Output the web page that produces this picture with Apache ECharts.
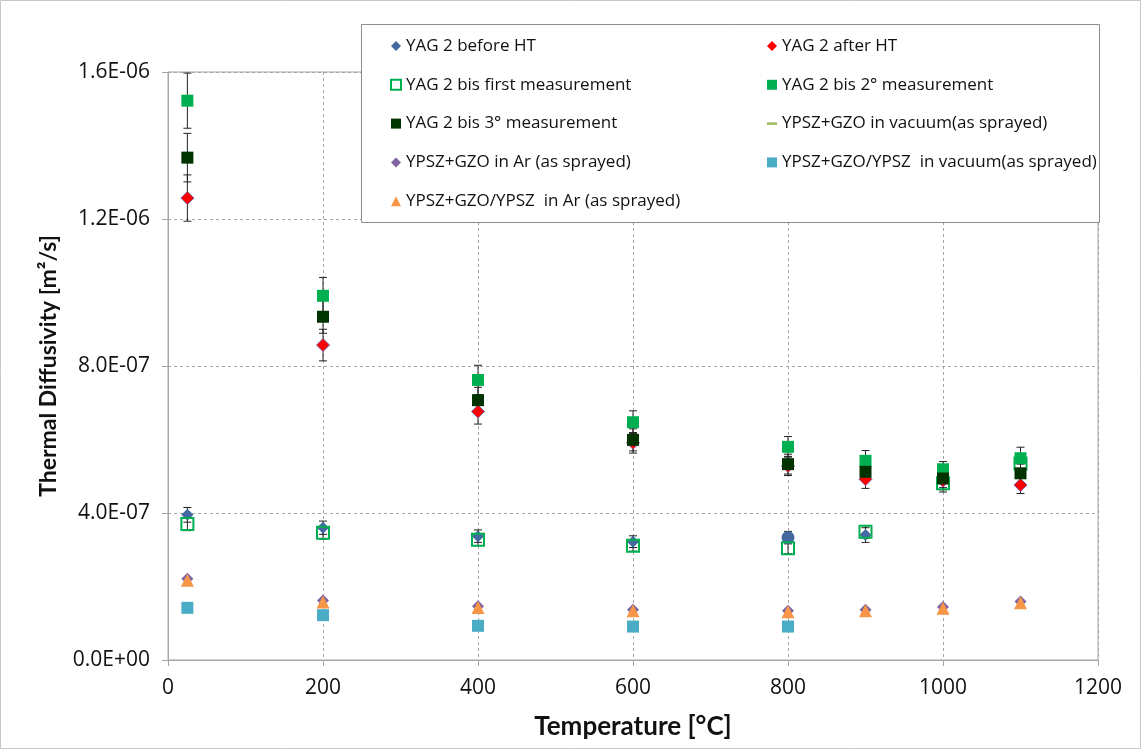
<!DOCTYPE html>
<html><head><meta charset="utf-8">
<script src="https://cdn.jsdelivr.net/npm/echarts@6/dist/echarts.min.js"></script>
<style>html,body{margin:0;padding:0;background:#fff}#c{width:1141px;height:749px}</style>
</head><body><div id="c"></div>
<script>
const temps = [25, 200, 400, 600, 800, 900, 1000, 1100];
const xTicks = [0, 200, 400, 600, 800, 1000, 1200];
const yTicks = [0, 4e-7, 8e-7, 1.2e-6, 1.6e-6];

const beforeHT   = [3.95e-7, 3.60e-7, 3.37e-7, 3.22e-7, 3.33e-7, 3.40e-7, null, null];
const afterHT    = [1.257e-6, 8.57e-7, 6.76e-7, 5.91e-7, 5.28e-7, 4.92e-7, 4.88e-7, 4.76e-7];
const bisFirst   = [3.70e-7, 3.46e-7, 3.27e-7, 3.11e-7, 3.04e-7, 3.49e-7, 4.81e-7, 5.35e-7];
const bis2       = [1.522e-6, 9.91e-7, 7.62e-7, 6.47e-7, 5.80e-7, 5.42e-7, 5.19e-7, 5.49e-7];
const bis3       = [1.367e-6, 9.34e-7, 7.07e-7, 5.99e-7, 5.33e-7, 5.12e-7, 4.94e-7, 5.08e-7];
const gzoVac     = [];
const gzoAr      = [2.21e-7, 1.62e-7, 1.46e-7, 1.37e-7, 1.34e-7, 1.37e-7, 1.44e-7, 1.59e-7];
const gzoYpszVac = [1.42e-7, 1.22e-7, 0.93e-7, 0.91e-7, 0.91e-7, null, null, null];
const gzoYpszAr  = [2.17e-7, 1.58e-7, 1.43e-7, 1.34e-7, 1.31e-7, 1.34e-7, 1.41e-7, 1.56e-7];

const errBefore = [0.20e-7, 0.18e-7, 0.17e-7, 0.16e-7, 0.17e-7, 0.20e-7, null, null];
const errAfter  = [0.63e-7, 0.43e-7, 0.34e-7, 0.28e-7, 0.26e-7, 0.25e-7, 0.25e-7, 0.23e-7];
const errFirst  = [0.18e-7, 0.17e-7, 0.16e-7, 0.15e-7, 0.15e-7, 0.17e-7, 0.24e-7, 0.27e-7];
const errBis2   = [0.75e-7, 0.50e-7, 0.40e-7, 0.31e-7, 0.28e-7, 0.28e-7, 0.21e-7, 0.30e-7];
const errBis3   = [0.66e-7, 0.45e-7, 0.35e-7, 0.30e-7, 0.27e-7, 0.26e-7, 0.25e-7, 0.25e-7];

const names = ['YAG 2 before HT','YAG 2 after HT','YAG 2 bis first measurement','YAG 2 bis 2° measurement',
  'YAG 2 bis 3° measurement','YPSZ+GZO in vacuum(as sprayed)','YPSZ+GZO in Ar (as sprayed)',
  'YPSZ+GZO/YPSZ  in vacuum(as sprayed)','YPSZ+GZO/YPSZ  in Ar (as sprayed)'];

function pts(vals){ const o=[]; vals.forEach((v,i)=>{ if(v!==null && v!==undefined) o.push([temps[i], v]); }); return o; }
function errPts(vals, errs){ const o=[]; vals.forEach((v,i)=>{ if(v!==null && errs[i]!==null) o.push([temps[i], v-errs[i], v+errs[i]]); }); return o; }

function fmt(v){
  if (v === 0) return '0.0E+00';
  let s = v.toExponential(1);
  let [m, e] = s.split('e');
  let sign = e[0] === '-' ? '-' : '+';
  let d = e.replace(/[+-]/,'');
  if (d.length < 2) d = '0' + d;
  return m + 'E' + sign + d;
}

function errSeries(vals, errs){
  return {
    type: 'custom', z: 1, silent: true,
    data: errPts(vals, errs),
    renderItem: function(params, api){
      const x = api.value(0);
      const lo = api.coord([x, api.value(1)]);
      const hi = api.coord([x, api.value(2)]);
      const c = 4;
      const st = {stroke: '#222', lineWidth: 1};
      return {type:'group', children:[
        {type:'line', shape:{x1:lo[0],y1:lo[1],x2:hi[0],y2:hi[1]}, style:st},
        {type:'line', shape:{x1:lo[0]-c,y1:lo[1],x2:lo[0]+c,y2:lo[1]}, style:st},
        {type:'line', shape:{x1:hi[0]-c,y1:hi[1],x2:hi[0]+c,y2:hi[1]}, style:st}
      ]};
    }
  };
}

const TFONT = 'Open Sans';
const BFONT = 'Lato';
const legendText = {fontSize: 17, color: '#111', fontFamily: TFONT, lineHeight: 20};
const chart = echarts.init(document.getElementById('c'));
const option = {
  backgroundColor: '#fff',
  animation: false,
  textStyle: {fontFamily: TFONT},
  grid: {left: 168, right: 43, top: 72, bottom: 89, show: true, borderColor: '#a6a6a6', borderWidth: 1},
  xAxis: {
    type: 'value', min: xTicks[0], max: xTicks[xTicks.length-1], interval: 200,
    name: 'Temperature [°C]', nameLocation: 'middle', nameGap: 54,
    nameTextStyle: {fontSize: 26, fontWeight: 'bold', color: '#111', fontFamily: BFONT},
    axisLine: {lineStyle: {color: '#a6a6a6'}},
    axisTick: {show: true, length: 6, lineStyle: {color: '#a6a6a6'}},
    axisLabel: {fontSize: 21, color: '#111', margin: 18, formatter: (v)=> String(v)},
    splitLine: {lineStyle: {color: '#a6a6a6', type: [3,3]}}
  },
  yAxis: {
    type: 'value', min: yTicks[0], max: yTicks[yTicks.length-1], interval: 4e-7,
    name: 'Thermal Diffusivity [m²/s]', nameLocation: 'middle', nameGap: 108,
    nameTextStyle: {fontSize: 23, fontWeight: 'bold', color: '#111', fontFamily: BFONT},
    axisLine: {show: true, lineStyle: {color: '#a6a6a6'}},
    axisTick: {show: true, length: 6, lineStyle: {color: '#a6a6a6'}},
    axisLabel: {fontSize: 21, color: '#111', margin: 18, formatter: fmt},
    splitLine: {lineStyle: {color: '#a6a6a6', type: [3,3]}}
  },
  graphic: [
    {type:'rect', z: 100, silent:true, shape:{x:0.5,y:0.5,width:1140,height:748}, style:{fill:'none', stroke:'#c8c8c8', lineWidth:1}},
    {type:'rect', z: 3, silent:true, shape:{x:361.5,y:24.5,width:738,height:198}, style:{fill:'#fff', stroke:'#8c8c8c', lineWidth:1}}
  ],
  legend: [
    {left: 385, top: 31, orient: 'vertical', itemGap: 18.8, itemWidth: 10, itemHeight: 10, z: 5,
     textStyle: legendText,
     data: [{name: names[0], icon: 'diamond'}, {name: names[2]}, {name: names[4], icon: 'rect'}, {name: names[6], icon: 'diamond'}, {name: names[8], icon: 'triangle'}]},
    {left: 762, top: 31, orient: 'vertical', itemGap: 18.8, itemWidth: 10, itemHeight: 10, z: 5,
     textStyle: legendText,
     data: [{name: names[1], icon: 'diamond', itemStyle: {borderWidth: 0}}, {name: names[3], icon: 'rect'}, {name: names[5], icon: 'path://M0,4 L10,4 L10,6.5 L0,6.5 Z'}, {name: names[7], icon: 'rect'}]}
  ],
  series: [
    errSeries(beforeHT, errBefore),
    errSeries(afterHT, errAfter),
    errSeries(bisFirst, errFirst),
    errSeries(bis2, errBis2),
    errSeries(bis3, errBis3),
    {name: names[0], type: 'scatter', z: 2, data: pts(beforeHT), symbolSize: (v)=> v[0]===800 ? 13 : 12,
     symbol: (v)=> v[0]===800 ? 'circle' : 'diamond', itemStyle: {color: '#4369a0', opacity: 1}},
    {name: names[1], type: 'scatter', z: 2, data: pts(afterHT), symbol: 'diamond', symbolSize: 13,
     itemStyle: {color: '#ff0000', borderColor: '#7a5fa8', borderWidth: 1, opacity: 1}},
    {name: names[2], type: 'scatter', z: 2, data: pts(bisFirst), symbol: 'rect', symbolSize: 12,
     itemStyle: {color: 'rgba(255,255,255,0)', borderColor: '#00b050', borderWidth: 2, opacity: 1}},
    {name: names[3], type: 'scatter', z: 2, data: pts(bis2), symbol: 'rect', symbolSize: 12,
     itemStyle: {color: '#00b050', opacity: 1}},
    {name: names[4], type: 'scatter', z: 2, data: pts(bis3), symbol: 'rect', symbolSize: 12,
     itemStyle: {color: '#003300', opacity: 1}},
    {name: names[5], type: 'scatter', z: 2, data: gzoVac, itemStyle: {color: '#9bbb59', opacity: 1}},
    {name: names[6], type: 'scatter', z: 2, data: pts(gzoAr), symbol: 'diamond', symbolSize: 12,
     itemStyle: {color: '#8064a2', opacity: 1}},
    {name: names[7], type: 'scatter', z: 2, data: pts(gzoYpszVac), symbol: 'rect', symbolSize: 12,
     itemStyle: {color: '#4bacc6', opacity: 1}},
    {name: names[8], type: 'scatter', z: 2, data: pts(gzoYpszAr), symbol: 'triangle', symbolSize: 13,
     itemStyle: {color: '#f79646', opacity: 1}}
  ]
};
chart.setOption(option);
</script></body></html>
